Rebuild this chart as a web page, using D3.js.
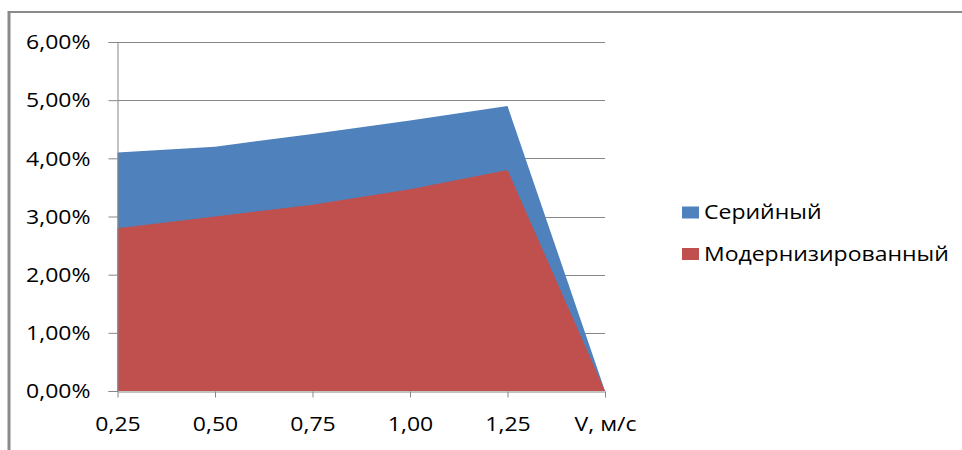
<!DOCTYPE html>
<html><head><meta charset="utf-8">
<script src="https://cdn.jsdelivr.net/npm/d3@7"></script>
<style>body{margin:0;background:#fff}svg{display:block}</style>
</head><body>
<script>
const categories = ["0,25","0,50","0,75","1,00","1,25","V, м/с"];
const serial = [4.1, 4.2, 4.42, 4.65, 4.9, 0];
const modern = [2.8, 3.0, 3.2, 3.47, 3.8, 0];
const yTicks = [0,1,2,3,4,5,6];
const seriesNames = ["Серийный","Модернизированный"];
const colors = ["#4F81BD","#C0504D"];

const W=962,H=450, SX=1.15;
const svg=d3.select("body").append("svg").attr("width",W).attr("height",H);
const font="'Open Sans', sans-serif";

// outer border
svg.append("line").attr("x1",9).attr("x2",9).attr("y1",11).attr("y2",H).attr("stroke","#8a8a8a").attr("stroke-width",3);
svg.append("line").attr("x1",8).attr("x2",W).attr("y1",12).attr("y2",12).attr("stroke","#8a8a8a").attr("stroke-width",2);

const x=d3.scalePoint().domain(categories).range([117.5,605]);
const y=d3.scaleLinear().domain([0,6]).range([391,42]);

// gridlines
svg.append("g").selectAll("line").data(yTicks.filter(d=>d>0)).join("line")
  .attr("x1",117.5).attr("x2",605).attr("y1",d=>Math.round(y(d))+0.5).attr("y2",d=>Math.round(y(d))+0.5)
  .attr("stroke","#868686").attr("stroke-width",1);

const area=d3.area().x((d,i)=>x(categories[i])).y0(y(0)).y1(d=>y(d));
[serial,modern].forEach((s,k)=>{
  svg.append("path").datum(s).attr("d",area).attr("fill",colors[k]);
});

// y axis
const yAx=svg.append("g").attr("transform","translate(117.5,0)")
  .call(d3.axisLeft(y).tickValues(yTicks).tickSize(9).tickPadding(27).tickFormat(d=>d.toFixed(2).replace(".",",")+"%"));
yAx.select(".domain").attr("stroke","#868686");
yAx.selectAll(".tick line").attr("stroke","#868686");
yAx.selectAll(".tick text").attr("font-family",font).attr("font-size",20).attr("fill","#000")
  .attr("x",-27/SX).attr("dy","0.34em").attr("transform",`scale(${SX},1)`);

// x axis
const xAx=svg.append("g").attr("transform","translate(0,391.5)")
  .call(d3.axisBottom(x).tickSize(6).tickSizeOuter(0).tickPadding(20));
xAx.select(".domain").attr("stroke","#868686");
xAx.selectAll(".tick line").attr("stroke","#868686");
xAx.selectAll(".tick").each(function(d){
  const g=d3.select(this);
  g.select("text").attr("font-family",font).attr("font-size",20).attr("fill","#000")
   .attr("y",33).attr("dy","0.35em").attr("transform",`scale(${SX},1)`);
});

// legend
const leg=svg.append("g");
seriesNames.forEach((n,i)=>{
  const cy=[212.5,254][i];
  leg.append("rect").attr("x",682).attr("y",cy-6).attr("width",17).attr("height",12).attr("fill",colors[i]);
  leg.append("text").attr("x",704/SX).attr("y",cy).attr("dy","0.35em").attr("transform",`scale(${SX},1)`)
    .attr("font-family",font).attr("font-size",20).attr("fill","#000").text(n);
});
</script>
</body></html>
